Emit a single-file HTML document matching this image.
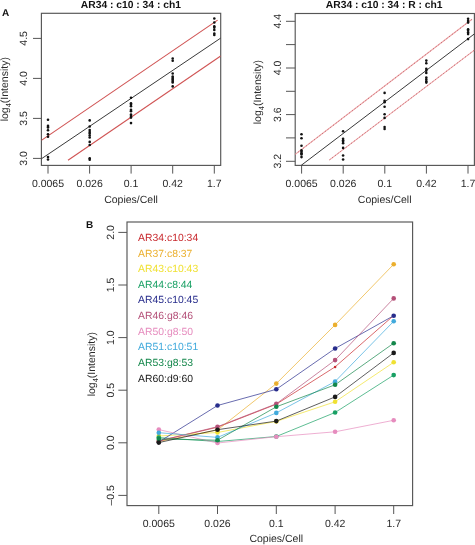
<!DOCTYPE html>
<html><head><meta charset="utf-8"><style>
html,body{margin:0;padding:0;background:#fff;}
svg{display:block;will-change:transform;}
text{font-family:"Liberation Sans", sans-serif;text-rendering:geometricPrecision;}
</style></head><body>
<svg width="475" height="545" viewBox="0 0 475 545">
<rect width="475" height="545" fill="#fff"/>
<rect x="41.4" y="13.3" width="179.29999999999998" height="152.1" fill="none" stroke="#555" stroke-width="1.15"/>
<text x="130.9" y="7.8" text-anchor="middle" font-size="10.3" font-weight="bold" fill="#111" >AR34 : c10 : 34 : ch1</text>
<text x="2" y="15.8" text-anchor="start" font-size="10" font-weight="bold" fill="#111" >A</text>
<line x1="33.0" y1="158.4" x2="41.4" y2="158.4" stroke="#555" stroke-width="1" />
<text transform="translate(26.7,158.4) rotate(-90)" text-anchor="middle" font-size="10.5" font-weight="normal" fill="#2a2a2a" >3.0</text>
<line x1="33.0" y1="118.4" x2="41.4" y2="118.4" stroke="#555" stroke-width="1" />
<text transform="translate(26.7,118.4) rotate(-90)" text-anchor="middle" font-size="10.5" font-weight="normal" fill="#2a2a2a" >3.5</text>
<line x1="33.0" y1="78.4" x2="41.4" y2="78.4" stroke="#555" stroke-width="1" />
<text transform="translate(26.7,78.4) rotate(-90)" text-anchor="middle" font-size="10.5" font-weight="normal" fill="#2a2a2a" >4.0</text>
<line x1="33.0" y1="38.4" x2="41.4" y2="38.4" stroke="#555" stroke-width="1" />
<text transform="translate(26.7,38.4) rotate(-90)" text-anchor="middle" font-size="10.5" font-weight="normal" fill="#2a2a2a" >4.5</text>
<line x1="48.0" y1="165.4" x2="48.0" y2="173.6" stroke="#555" stroke-width="1" />
<text x="48.0" y="187.2" text-anchor="middle" font-size="10.5" font-weight="normal" fill="#2a2a2a" >0.0065</text>
<line x1="89.6" y1="165.4" x2="89.6" y2="173.6" stroke="#555" stroke-width="1" />
<text x="89.6" y="187.2" text-anchor="middle" font-size="10.5" font-weight="normal" fill="#2a2a2a" >0.026</text>
<line x1="131.1" y1="165.4" x2="131.1" y2="173.6" stroke="#555" stroke-width="1" />
<text x="131.1" y="187.2" text-anchor="middle" font-size="10.5" font-weight="normal" fill="#2a2a2a" >0.1</text>
<line x1="172.7" y1="165.4" x2="172.7" y2="173.6" stroke="#555" stroke-width="1" />
<text x="172.7" y="187.2" text-anchor="middle" font-size="10.5" font-weight="normal" fill="#2a2a2a" >0.42</text>
<line x1="214.3" y1="165.4" x2="214.3" y2="173.6" stroke="#555" stroke-width="1" />
<text x="214.3" y="187.2" text-anchor="middle" font-size="10.5" font-weight="normal" fill="#2a2a2a" >1.7</text>
<text x="131.05" y="202.8" text-anchor="middle" font-size="10.5" font-weight="normal" fill="#2a2a2a" >Copies/Cell</text>
<text transform="translate(7.7,89.2) rotate(-90)" text-anchor="middle" font-size="10.5" font-weight="normal" fill="#2a2a2a" >log<tspan font-size="7.5" dy="3">4</tspan><tspan dy="-3">(Intensity)</tspan></text>
<clipPath id="ca"><rect x="41.4" y="13.3" width="179.29999999999998" height="152.1"/></clipPath>
<g clip-path="url(#ca)">
<line x1="41.4" y1="158.8" x2="220.7" y2="38.1" stroke="#222" stroke-width="0.9" />
<line x1="41.4" y1="140.35" x2="217.6" y2="20.15" stroke="#d05454" stroke-width="1.1" />
<line x1="68" y1="160.3" x2="220.7" y2="56.0" stroke="#d05454" stroke-width="1.1" />
</g>
<circle cx="48.0" cy="119.8" r="1.3" fill="#111"/>
<circle cx="48.0" cy="125.9" r="1.3" fill="#111"/>
<circle cx="48.0" cy="127.4" r="1.3" fill="#111"/>
<circle cx="48.0" cy="130.3" r="1.3" fill="#111"/>
<circle cx="48.0" cy="134.2" r="1.3" fill="#111"/>
<circle cx="48.0" cy="136.7" r="1.3" fill="#111"/>
<circle cx="48.0" cy="157" r="1.3" fill="#111"/>
<circle cx="48.0" cy="159.5" r="1.3" fill="#111"/>
<circle cx="89.7" cy="120.4" r="1.3" fill="#111"/>
<circle cx="89.7" cy="126.5" r="1.3" fill="#111"/>
<circle cx="89.7" cy="130.1" r="1.3" fill="#111"/>
<circle cx="89.7" cy="132" r="1.3" fill="#111"/>
<circle cx="89.7" cy="133.6" r="1.3" fill="#111"/>
<circle cx="89.7" cy="135.5" r="1.3" fill="#111"/>
<circle cx="89.7" cy="137.5" r="1.3" fill="#111"/>
<circle cx="89.7" cy="141.9" r="1.3" fill="#111"/>
<circle cx="89.7" cy="145" r="1.3" fill="#111"/>
<circle cx="89.7" cy="158.2" r="1.3" fill="#111"/>
<circle cx="89.7" cy="159.8" r="1.3" fill="#111"/>
<circle cx="131.0" cy="97.7" r="1.3" fill="#111"/>
<circle cx="131.0" cy="103.2" r="1.3" fill="#111"/>
<circle cx="131.0" cy="104.7" r="1.3" fill="#111"/>
<circle cx="131.0" cy="106.3" r="1.3" fill="#111"/>
<circle cx="131.0" cy="109.9" r="1.3" fill="#111"/>
<circle cx="131.0" cy="111.3" r="1.3" fill="#111"/>
<circle cx="131.0" cy="114.6" r="1.3" fill="#111"/>
<circle cx="131.0" cy="116.1" r="1.3" fill="#111"/>
<circle cx="131.0" cy="117.6" r="1.3" fill="#111"/>
<circle cx="131.0" cy="123.1" r="1.3" fill="#111"/>
<circle cx="172.7" cy="58.5" r="1.3" fill="#111"/>
<circle cx="172.7" cy="60.7" r="1.3" fill="#111"/>
<circle cx="172.7" cy="73.5" r="1.3" fill="#111"/>
<circle cx="172.7" cy="76.5" r="1.3" fill="#111"/>
<circle cx="172.7" cy="77.9" r="1.3" fill="#111"/>
<circle cx="172.7" cy="79.4" r="1.3" fill="#111"/>
<circle cx="172.7" cy="80.9" r="1.3" fill="#111"/>
<circle cx="172.7" cy="82.4" r="1.3" fill="#111"/>
<circle cx="172.7" cy="86.4" r="1.3" fill="#111"/>
<circle cx="214.3" cy="18.5" r="1.3" fill="#111"/>
<circle cx="214.3" cy="22.5" r="1.3" fill="#111"/>
<circle cx="214.3" cy="26.2" r="1.3" fill="#111"/>
<circle cx="214.3" cy="27.6" r="1.3" fill="#111"/>
<circle cx="214.3" cy="29.9" r="1.3" fill="#111"/>
<circle cx="214.3" cy="33.5" r="1.3" fill="#111"/>
<circle cx="214.3" cy="35" r="1.3" fill="#111"/>
<rect x="295.2" y="13.5" width="179.2" height="151.9" fill="none" stroke="#555" stroke-width="1.15"/>
<text x="384.2" y="7.8" text-anchor="middle" font-size="10.3" font-weight="bold" fill="#111" >AR34 : c10 : 34 : R : ch1</text>
<line x1="286.0" y1="161.3" x2="295.2" y2="161.3" stroke="#555" stroke-width="1" />
<text transform="translate(280.5,161.3) rotate(-90)" text-anchor="middle" font-size="10.5" font-weight="normal" fill="#2a2a2a" >3.2</text>
<line x1="286.0" y1="137.9" x2="295.2" y2="137.9" stroke="#555" stroke-width="1" />
<line x1="286.0" y1="114.6" x2="295.2" y2="114.6" stroke="#555" stroke-width="1" />
<text transform="translate(280.5,114.6) rotate(-90)" text-anchor="middle" font-size="10.5" font-weight="normal" fill="#2a2a2a" >3.6</text>
<line x1="286.0" y1="91.3" x2="295.2" y2="91.3" stroke="#555" stroke-width="1" />
<line x1="286.0" y1="68.0" x2="295.2" y2="68.0" stroke="#555" stroke-width="1" />
<text transform="translate(280.5,68.0) rotate(-90)" text-anchor="middle" font-size="10.5" font-weight="normal" fill="#2a2a2a" >4.0</text>
<line x1="286.0" y1="44.6" x2="295.2" y2="44.6" stroke="#555" stroke-width="1" />
<line x1="286.0" y1="21.3" x2="295.2" y2="21.3" stroke="#555" stroke-width="1" />
<text transform="translate(280.5,21.3) rotate(-90)" text-anchor="middle" font-size="10.5" font-weight="normal" fill="#2a2a2a" >4.4</text>
<line x1="301.6" y1="165.4" x2="301.6" y2="173.6" stroke="#555" stroke-width="1" />
<text x="301.6" y="187.2" text-anchor="middle" font-size="10.5" font-weight="normal" fill="#2a2a2a" >0.0065</text>
<line x1="343.2" y1="165.4" x2="343.2" y2="173.6" stroke="#555" stroke-width="1" />
<text x="343.2" y="187.2" text-anchor="middle" font-size="10.5" font-weight="normal" fill="#2a2a2a" >0.026</text>
<line x1="384.8" y1="165.4" x2="384.8" y2="173.6" stroke="#555" stroke-width="1" />
<text x="384.8" y="187.2" text-anchor="middle" font-size="10.5" font-weight="normal" fill="#2a2a2a" >0.1</text>
<line x1="426.4" y1="165.4" x2="426.4" y2="173.6" stroke="#555" stroke-width="1" />
<text x="426.4" y="187.2" text-anchor="middle" font-size="10.5" font-weight="normal" fill="#2a2a2a" >0.42</text>
<line x1="468.0" y1="165.4" x2="468.0" y2="173.6" stroke="#555" stroke-width="1" />
<text x="468.0" y="187.2" text-anchor="middle" font-size="10.5" font-weight="normal" fill="#2a2a2a" >1.7</text>
<text x="384.7" y="202.8" text-anchor="middle" font-size="10.5" font-weight="normal" fill="#2a2a2a" >Copies/Cell</text>
<text transform="translate(260.8,92.1) rotate(-90)" text-anchor="middle" font-size="10.5" font-weight="normal" fill="#2a2a2a" >log<tspan font-size="7.5" dy="3">4</tspan><tspan dy="-3">(Intensity)</tspan></text>
<clipPath id="cb"><rect x="295.2" y="13.5" width="179.2" height="151.9"/></clipPath>
<g clip-path="url(#cb)">
<line x1="301.15" y1="165.4" x2="474.4" y2="33.9" stroke="#222" stroke-width="0.9" />
<line x1="295.2" y1="154.4" x2="472.0" y2="19.3" stroke="#eeaaaa" stroke-width="1.1" />
<line x1="295.2" y1="154.4" x2="472.0" y2="19.3" stroke="#c4606e" stroke-width="1.0" stroke-dasharray="1.1 2.3"/>
<line x1="329.5" y1="159.9" x2="474.4" y2="50.1" stroke="#eeaaaa" stroke-width="1.1" />
<line x1="329.5" y1="159.9" x2="474.4" y2="50.1" stroke="#c4606e" stroke-width="1.0" stroke-dasharray="1.1 2.3"/>
</g>
<circle cx="301.5" cy="134.2" r="1.3" fill="#111"/>
<circle cx="301.5" cy="138.2" r="1.3" fill="#111"/>
<circle cx="301.5" cy="145.7" r="1.3" fill="#111"/>
<circle cx="301.5" cy="150.4" r="1.3" fill="#111"/>
<circle cx="301.5" cy="151.8" r="1.3" fill="#111"/>
<circle cx="301.5" cy="153.3" r="1.3" fill="#111"/>
<circle cx="301.5" cy="154.4" r="1.3" fill="#111"/>
<circle cx="301.5" cy="157.1" r="1.3" fill="#111"/>
<circle cx="343.1" cy="131.2" r="1.3" fill="#111"/>
<circle cx="343.1" cy="138.8" r="1.3" fill="#111"/>
<circle cx="343.1" cy="140.3" r="1.3" fill="#111"/>
<circle cx="343.1" cy="141.8" r="1.3" fill="#111"/>
<circle cx="343.1" cy="143.3" r="1.3" fill="#111"/>
<circle cx="343.1" cy="147.9" r="1.3" fill="#111"/>
<circle cx="343.1" cy="155.5" r="1.3" fill="#111"/>
<circle cx="343.1" cy="159.5" r="1.3" fill="#111"/>
<circle cx="384.6" cy="92.9" r="1.3" fill="#111"/>
<circle cx="384.6" cy="100.7" r="1.3" fill="#111"/>
<circle cx="384.6" cy="102.2" r="1.3" fill="#111"/>
<circle cx="384.6" cy="106.8" r="1.3" fill="#111"/>
<circle cx="384.6" cy="114.3" r="1.3" fill="#111"/>
<circle cx="384.6" cy="117.9" r="1.3" fill="#111"/>
<circle cx="384.6" cy="127" r="1.3" fill="#111"/>
<circle cx="384.6" cy="129" r="1.3" fill="#111"/>
<circle cx="426.3" cy="60.6" r="1.3" fill="#111"/>
<circle cx="426.3" cy="63.3" r="1.3" fill="#111"/>
<circle cx="426.3" cy="68.8" r="1.3" fill="#111"/>
<circle cx="426.3" cy="70.6" r="1.3" fill="#111"/>
<circle cx="426.3" cy="72.9" r="1.3" fill="#111"/>
<circle cx="426.3" cy="77.5" r="1.3" fill="#111"/>
<circle cx="426.3" cy="79.4" r="1.3" fill="#111"/>
<circle cx="426.3" cy="81.2" r="1.3" fill="#111"/>
<circle cx="426.3" cy="82.6" r="1.3" fill="#111"/>
<circle cx="468.1" cy="18.7" r="1.3" fill="#111"/>
<circle cx="468.1" cy="20.9" r="1.3" fill="#111"/>
<circle cx="468.1" cy="22.6" r="1.3" fill="#111"/>
<circle cx="468.1" cy="29.2" r="1.3" fill="#111"/>
<circle cx="468.1" cy="30.8" r="1.3" fill="#111"/>
<circle cx="468.1" cy="32.5" r="1.3" fill="#111"/>
<circle cx="468.1" cy="34.1" r="1.3" fill="#111"/>
<circle cx="468.1" cy="39.1" r="1.3" fill="#111"/>
<rect x="127.0" y="222.0" width="285.6" height="283.6" fill="none" stroke="#555" stroke-width="1.15"/>
<text x="86" y="227.9" text-anchor="start" font-size="10" font-weight="bold" fill="#111" >B</text>
<line x1="118.3" y1="495.4" x2="127.0" y2="495.4" stroke="#555" stroke-width="1" />
<text transform="translate(113.8,495.4) rotate(-90)" text-anchor="middle" font-size="10.5" font-weight="normal" fill="#2a2a2a" >&#8211;0.5</text>
<line x1="118.3" y1="442.8" x2="127.0" y2="442.8" stroke="#555" stroke-width="1" />
<text transform="translate(113.8,442.8) rotate(-90)" text-anchor="middle" font-size="10.5" font-weight="normal" fill="#2a2a2a" >0.0</text>
<line x1="118.3" y1="390.2" x2="127.0" y2="390.2" stroke="#555" stroke-width="1" />
<text transform="translate(113.8,390.2) rotate(-90)" text-anchor="middle" font-size="10.5" font-weight="normal" fill="#2a2a2a" >0.5</text>
<line x1="118.3" y1="337.6" x2="127.0" y2="337.6" stroke="#555" stroke-width="1" />
<text transform="translate(113.8,337.6) rotate(-90)" text-anchor="middle" font-size="10.5" font-weight="normal" fill="#2a2a2a" >1.0</text>
<line x1="118.3" y1="285.0" x2="127.0" y2="285.0" stroke="#555" stroke-width="1" />
<text transform="translate(113.8,285.0) rotate(-90)" text-anchor="middle" font-size="10.5" font-weight="normal" fill="#2a2a2a" >1.5</text>
<line x1="118.3" y1="232.4" x2="127.0" y2="232.4" stroke="#555" stroke-width="1" />
<text transform="translate(113.8,232.4) rotate(-90)" text-anchor="middle" font-size="10.5" font-weight="normal" fill="#2a2a2a" >2.0</text>
<line x1="158.8" y1="505.6" x2="158.8" y2="514.0" stroke="#555" stroke-width="1" />
<text x="158.8" y="527.0" text-anchor="middle" font-size="10.5" font-weight="normal" fill="#2a2a2a" >0.0065</text>
<line x1="217.5" y1="505.6" x2="217.5" y2="514.0" stroke="#555" stroke-width="1" />
<text x="217.5" y="527.0" text-anchor="middle" font-size="10.5" font-weight="normal" fill="#2a2a2a" >0.026</text>
<line x1="276.3" y1="505.6" x2="276.3" y2="514.0" stroke="#555" stroke-width="1" />
<text x="276.3" y="527.0" text-anchor="middle" font-size="10.5" font-weight="normal" fill="#2a2a2a" >0.1</text>
<line x1="335.1" y1="505.6" x2="335.1" y2="514.0" stroke="#555" stroke-width="1" />
<text x="335.1" y="527.0" text-anchor="middle" font-size="10.5" font-weight="normal" fill="#2a2a2a" >0.42</text>
<line x1="393.7" y1="505.6" x2="393.7" y2="514.0" stroke="#555" stroke-width="1" />
<text x="393.7" y="527.0" text-anchor="middle" font-size="10.5" font-weight="normal" fill="#2a2a2a" >1.7</text>
<text x="276.3" y="542.4" text-anchor="middle" font-size="10.5" font-weight="normal" fill="#2a2a2a" >Copies/Cell</text>
<text transform="translate(94.6,364.2) rotate(-90)" text-anchor="middle" font-size="10.5" font-weight="normal" fill="#2a2a2a" >log<tspan font-size="7.5" dy="3">4</tspan><tspan dy="-3">(Intensity)</tspan></text>
<text x="138.1" y="241.0" text-anchor="start" font-size="10.4" font-weight="normal" fill="#c8282d" >AR34:c10:34</text>
<text x="138.1" y="256.62" text-anchor="start" font-size="10.4" font-weight="normal" fill="#ebaf2d" >AR37:c8:37</text>
<text x="138.1" y="272.24" text-anchor="start" font-size="10.4" font-weight="normal" fill="#f0e132" >AR43:c10:43</text>
<text x="138.1" y="287.86" text-anchor="start" font-size="10.4" font-weight="normal" fill="#19a064" >AR44:c8:44</text>
<text x="138.1" y="303.48" text-anchor="start" font-size="10.4" font-weight="normal" fill="#282d8c" >AR45:c10:45</text>
<text x="138.1" y="319.1" text-anchor="start" font-size="10.4" font-weight="normal" fill="#b45078" >AR46:g8:46</text>
<text x="138.1" y="334.72" text-anchor="start" font-size="10.4" font-weight="normal" fill="#e68cbe" >AR50:g8:50</text>
<text x="138.1" y="350.34" text-anchor="start" font-size="10.4" font-weight="normal" fill="#41aadc" >AR51:c10:51</text>
<text x="138.1" y="365.96" text-anchor="start" font-size="10.4" font-weight="normal" fill="#14874b" >AR53:g8:53</text>
<text x="138.1" y="381.58" text-anchor="start" font-size="10.4" font-weight="normal" fill="#1a1a1a" >AR60:d9:60</text>
<polyline points="158.8,441 217.5,427.2 276.3,404.2 335.1,366.9 393.7,315.5" fill="none" stroke="#c8282d" stroke-width="0.7"/>
<circle cx="158.8" cy="441" r="1.25" fill="#c8282d"/>
<circle cx="217.5" cy="427.2" r="1.25" fill="#c8282d"/>
<circle cx="276.3" cy="404.2" r="1.25" fill="#c8282d"/>
<circle cx="335.1" cy="366.9" r="1.25" fill="#c8282d"/>
<circle cx="393.7" cy="315.5" r="1.25" fill="#c8282d"/>
<polyline points="158.8,441.5 217.5,430 276.3,383.6 335.1,324.9 393.7,264.3" fill="none" stroke="#ebaf2d" stroke-width="0.7"/>
<circle cx="158.8" cy="441.5" r="2.3100000000000005" fill="#ebaf2d"/>
<circle cx="217.5" cy="430" r="2.3100000000000005" fill="#ebaf2d"/>
<circle cx="276.3" cy="383.6" r="2.3100000000000005" fill="#ebaf2d"/>
<circle cx="335.1" cy="324.9" r="2.3100000000000005" fill="#ebaf2d"/>
<circle cx="393.7" cy="264.3" r="2.3100000000000005" fill="#ebaf2d"/>
<polyline points="158.8,436 217.5,432.5 276.3,421.4 335.1,401.8 393.7,362.3" fill="none" stroke="#f0e132" stroke-width="0.7"/>
<circle cx="158.8" cy="436" r="2.3100000000000005" fill="#f0e132"/>
<circle cx="217.5" cy="432.5" r="2.3100000000000005" fill="#f0e132"/>
<circle cx="276.3" cy="421.4" r="2.3100000000000005" fill="#f0e132"/>
<circle cx="335.1" cy="401.8" r="2.3100000000000005" fill="#f0e132"/>
<circle cx="393.7" cy="362.3" r="2.3100000000000005" fill="#f0e132"/>
<polyline points="158.8,437.6 217.5,441.5 276.3,436.5 335.1,412.5 393.7,375.1" fill="none" stroke="#19a064" stroke-width="0.7"/>
<circle cx="158.8" cy="437.6" r="2.3100000000000005" fill="#19a064"/>
<circle cx="217.5" cy="441.5" r="2.3100000000000005" fill="#19a064"/>
<circle cx="276.3" cy="436.5" r="2.3100000000000005" fill="#19a064"/>
<circle cx="335.1" cy="412.5" r="2.3100000000000005" fill="#19a064"/>
<circle cx="393.7" cy="375.1" r="2.3100000000000005" fill="#19a064"/>
<polyline points="158.8,442 217.5,405.5 276.3,389.3 335.1,348.5 393.7,315.7" fill="none" stroke="#282d8c" stroke-width="0.7"/>
<circle cx="158.8" cy="442" r="2.3100000000000005" fill="#282d8c"/>
<circle cx="217.5" cy="405.5" r="2.3100000000000005" fill="#282d8c"/>
<circle cx="276.3" cy="389.3" r="2.3100000000000005" fill="#282d8c"/>
<circle cx="335.1" cy="348.5" r="2.3100000000000005" fill="#282d8c"/>
<circle cx="393.7" cy="315.7" r="2.3100000000000005" fill="#282d8c"/>
<polyline points="158.8,441 217.5,426.7 276.3,403.8 335.1,360.1 393.7,298.4" fill="none" stroke="#b45078" stroke-width="0.7"/>
<circle cx="158.8" cy="441" r="2.3100000000000005" fill="#b45078"/>
<circle cx="217.5" cy="426.7" r="2.3100000000000005" fill="#b45078"/>
<circle cx="276.3" cy="403.8" r="2.3100000000000005" fill="#b45078"/>
<circle cx="335.1" cy="360.1" r="2.3100000000000005" fill="#b45078"/>
<circle cx="393.7" cy="298.4" r="2.3100000000000005" fill="#b45078"/>
<polyline points="158.8,429.6 217.5,443 276.3,436.7 335.1,431.8 393.7,420.3" fill="none" stroke="#e68cbe" stroke-width="0.7"/>
<circle cx="158.8" cy="429.6" r="2.3100000000000005" fill="#e68cbe"/>
<circle cx="217.5" cy="443" r="2.3100000000000005" fill="#e68cbe"/>
<circle cx="276.3" cy="436.7" r="2.3100000000000005" fill="#e68cbe"/>
<circle cx="335.1" cy="431.8" r="2.3100000000000005" fill="#e68cbe"/>
<circle cx="393.7" cy="420.3" r="2.3100000000000005" fill="#e68cbe"/>
<polyline points="158.8,432.7 217.5,437.4 276.3,412.9 335.1,381.5 393.7,321.3" fill="none" stroke="#41aadc" stroke-width="0.7"/>
<circle cx="158.8" cy="432.7" r="2.3100000000000005" fill="#41aadc"/>
<circle cx="217.5" cy="437.4" r="2.3100000000000005" fill="#41aadc"/>
<circle cx="276.3" cy="412.9" r="2.3100000000000005" fill="#41aadc"/>
<circle cx="335.1" cy="381.5" r="2.3100000000000005" fill="#41aadc"/>
<circle cx="393.7" cy="321.3" r="2.3100000000000005" fill="#41aadc"/>
<polyline points="158.8,439 217.5,440.2 276.3,406.8 335.1,384.8 393.7,343.2" fill="none" stroke="#14874b" stroke-width="0.7"/>
<circle cx="158.8" cy="439" r="2.3100000000000005" fill="#14874b"/>
<circle cx="217.5" cy="440.2" r="2.3100000000000005" fill="#14874b"/>
<circle cx="276.3" cy="406.8" r="2.3100000000000005" fill="#14874b"/>
<circle cx="335.1" cy="384.8" r="2.3100000000000005" fill="#14874b"/>
<circle cx="393.7" cy="343.2" r="2.3100000000000005" fill="#14874b"/>
<polyline points="158.8,442.6 217.5,429.7 276.3,421.1 335.1,396.9 393.7,352.9" fill="none" stroke="#1a1a1a" stroke-width="0.7"/>
<circle cx="158.8" cy="442.6" r="2.3100000000000005" fill="#1a1a1a"/>
<circle cx="217.5" cy="429.7" r="2.3100000000000005" fill="#1a1a1a"/>
<circle cx="276.3" cy="421.1" r="2.3100000000000005" fill="#1a1a1a"/>
<circle cx="335.1" cy="396.9" r="2.3100000000000005" fill="#1a1a1a"/>
<circle cx="393.7" cy="352.9" r="2.3100000000000005" fill="#1a1a1a"/>
</svg></body></html>
